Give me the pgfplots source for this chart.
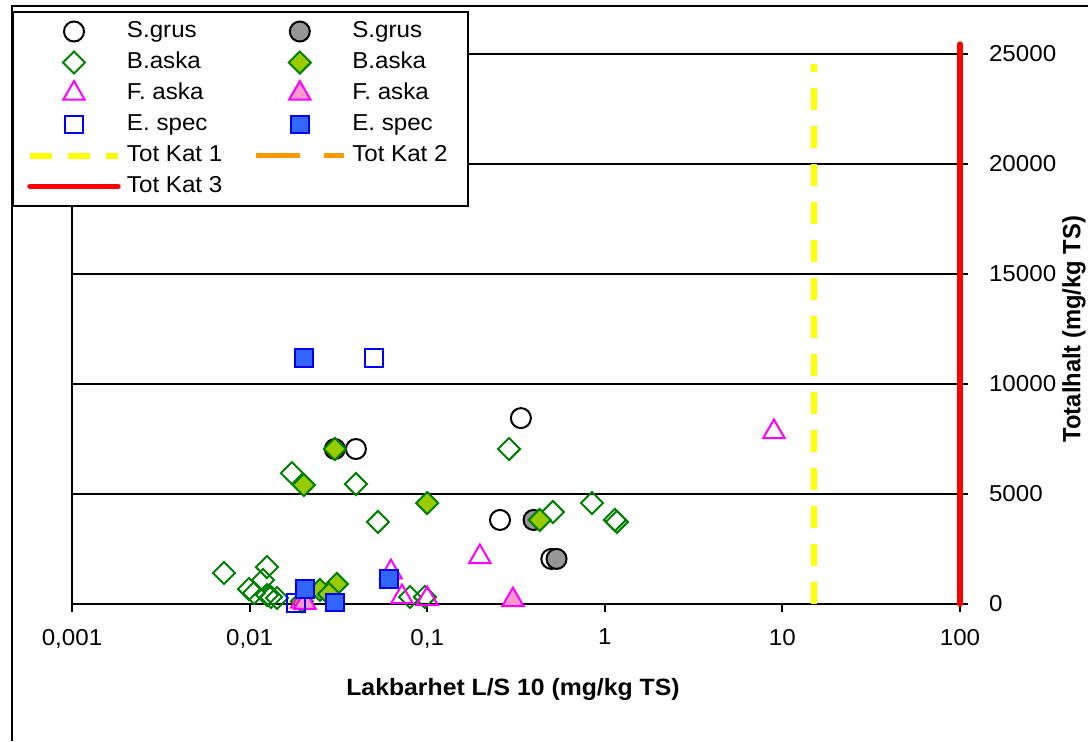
\documentclass[border=0pt]{standalone}
\usepackage{pgfplots}
\pgfplotsset{compat=1.18}
\usepackage{fontspec}
\setmainfont{Liberation Sans}[FakeStretch=1.05]
\newfontfamily\narrowsans{Liberation Sans}[FakeStretch=0.95]
\definecolor{sgray}{RGB}{150,150,150}
\definecolor{bgreen}{RGB}{0,128,0}
\definecolor{bfill}{RGB}{153,204,0}
\definecolor{fmag}{RGB}{255,0,255}
\definecolor{ffill}{RGB}{255,153,204}
\definecolor{eblue}{RGB}{0,0,255}
\definecolor{efill}{RGB}{51,102,255}
\definecolor{kyellow}{RGB}{255,255,0}
\definecolor{korange}{RGB}{255,153,0}
\definecolor{kred}{RGB}{255,0,0}
\begin{document}
\begin{tikzpicture}
\useasboundingbox (-36pt,-68.5pt) rectangle (508pt,302pt);
\begin{axis}[
  scale only axis, width=444pt, height=280.5pt,
  xmode=log, xmin=0.001, xmax=100, ymin=0, ymax=25500,
  clip=false,
  axis x line*=bottom, axis y line*=right,
  x axis line style={-}, y axis line style={-},
  axis line style={line width=1pt, black},
  tick align=outside, major tick length=4pt,
  tick style={line width=1pt, black},
  xtick={0.001,0.01,0.1,1,10,100},
  xticklabels={{0,001},{0,01},{0,1},1,10,100},
  xminorticks=false,
  scaled y ticks=false,
  ytick={0,5000,10000,15000,20000,25000},
  yticklabels={0,5000,10000,15000,20000,25000},
  ymajorgrids, grid style={line width=1pt, black},
  ticklabel style={font=\fontsize{11.5pt}{13pt}\selectfont},
  xticklabel style={yshift=-5pt},
  yticklabel style={anchor=west, xshift=7pt},
  /pgf/number format/assume math mode=true,
  xlabel={Lakbarhet L/S 10 (mg/kg TS)},
  every axis x label/.style={at={(axis description cs:0.4966,-0.152)}, anchor=center, font=\bfseries\fontsize{11.8pt}{14pt}\selectfont},
  ylabel={Totalhalt (mg/kg TS)},
  every axis y label/.style={at={(axis description cs:1.1284,0.49)}, rotate=90, anchor=center, font=\narrowsans\bfseries\fontsize{12.5pt}{15pt}\selectfont},
  legend columns=2,
  legend cell align=left,
  legend image code/.code={\draw[mark repeat=2,mark phase=2,#1] plot coordinates {(0pt,0pt) (22pt,0pt) (44pt,0pt)};},
  legend style={at={(axis description cs:-0.06757,1.05704)}, anchor=north west,
    draw=black, line width=1pt, fill=white, inner xsep=7pt, inner ysep=2pt,
    font=\fontsize{11.5pt}{13pt}\selectfont,
    nodes={text height=8.5pt, text depth=2.5pt, inner ysep=2.25pt, inner xsep=3pt},
    /tikz/every even column/.append style={column sep=12.5pt}},
]
% left axis line
\draw[line width=1pt, black] (rel axis cs:0,0) -- (rel axis cs:0,1);

% S.grus open
\addplot[only marks, black, mark=o, mark size=5pt, mark options={line width=1pt}] coordinates {
(0.0397,7045) (0.337,8450) (0.257,3820) (0.50,2050)};
\addlegendentry{S.grus}
% S.grus filled
\addplot[only marks, black, mark=*, mark size=5pt, mark options={line width=1pt, fill=sgray}] coordinates {
(0.0302,7045) (0.397,3820) (0.535,2050)};
\addlegendentry{S.grus}
% B.aska open
\addplot[only marks, bgreen, mark=square, mark size=3.9pt, mark options={rotate=45, line width=1pt}] coordinates {
(0.0173,5950) (0.0397,5450) (0.0528,3730) (0.289,7045) (0.51,4180) (0.847,4590) (1.14,3820) (1.17,3730)
(0.00718,1410) (0.01253,1680) (0.01189,1090) (0.00992,680) (0.01059,500) (0.01253,410) (0.0132,318) (0.01427,273)
(0.080,320) (0.097,320)};
\addlegendentry{B.aska}
% B.aska filled
\addplot[only marks, bgreen, mark=square*, mark size=3.9pt, mark options={rotate=45, line width=1pt, fill=bfill}] coordinates {
(0.0202,5410) (0.0302,7045) (0.1,4590) (0.43,3820) (0.0249,640) (0.031,910) (0.028,450) (0.0197,120)};
\addlegendentry{B.aska}
% F.aska open
\addplot[only marks, fmag, mark=triangle, mark size=6.2pt, mark options={line width=1pt}] coordinates {
(8.96,7820) (0.198,2140) (0.0625,1450) (0.0721,320) (0.1,230) (0.0197,120)};
\addlegendentry{F. aska}
% F.aska filled
\addplot[only marks, fmag, mark=triangle*, mark size=6.2pt, mark options={line width=1pt, fill=ffill}] coordinates {
(0.304,180) (0.0205,60)};
\addlegendentry{F. aska}
% E.spec open
\addplot[only marks, eblue, mark=square, mark size=4.4pt, mark options={line width=1pt}] coordinates {
(0.050,11180) (0.0182,45)};
\addlegendentry{E. spec}
% E.spec filled
\addplot[only marks, eblue, mark=square*, mark size=4.4pt, mark options={line width=1pt, fill=efill}] coordinates {
(0.0202,11180) (0.0205,680) (0.0302,70) (0.061,1140)};
\addlegendentry{E. spec}
% Tot Kat 1
\addplot[kyellow, line width=3pt, dash pattern=on 11pt off 8pt] coordinates {(15,0) (15,24550)};
\addlegendentry{Tot Kat 1}
% Tot Kat 2
\addplot[korange, line width=2.5pt, dash pattern=on 22pt off 12pt] coordinates {(100,0) (100,25450)};
\addlegendentry{Tot Kat 2}
% Tot Kat 3
\addplot[kred, line width=2.75pt, line cap=round] coordinates {(100,0) (100,25450)};
\addlegendentry{Tot Kat 3}
\end{axis}
\draw[line width=1pt, black] (-30pt,-68.5pt) -- (-30pt,299pt) -- (508pt,299pt);
\end{tikzpicture}
\end{document}
